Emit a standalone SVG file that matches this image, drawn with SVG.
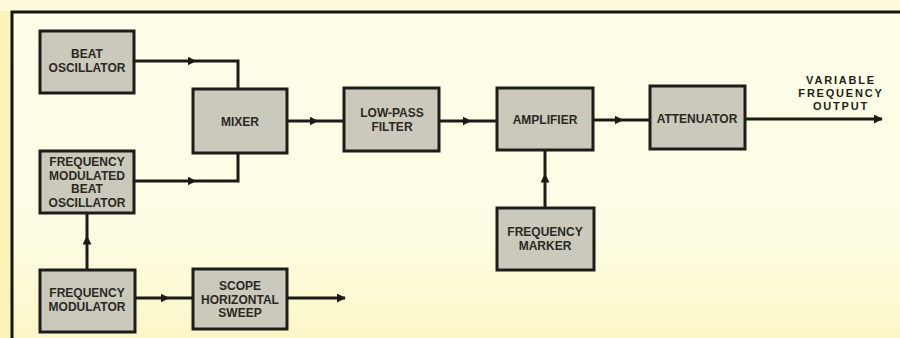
<svg xmlns="http://www.w3.org/2000/svg" width="900" height="338" viewBox="0 0 900 338">
<defs>
<linearGradient id="bg" x1="0" y1="0" x2="0" y2="1">
<stop offset="0" stop-color="#fefee9"/>
<stop offset="0.7" stop-color="#fefde4"/>
<stop offset="1" stop-color="#fcf6c6"/>
</linearGradient>
<marker id="arr" viewBox="0 0 10 10" refX="5" refY="5" markerWidth="9" markerHeight="9" markerUnits="userSpaceOnUse" orient="auto">
<path d="M0,0 L10,5 L0,10 Z" fill="#1a1a16"/>
</marker>
<marker id="end" viewBox="0 0 10 10" refX="9" refY="5" markerWidth="9" markerHeight="9" markerUnits="userSpaceOnUse" orient="auto">
<path d="M0,0 L10,5 L0,10 Z" fill="#1a1a16"/>
</marker>
</defs>
<style>
.box{fill:#cbc8bc;stroke:#1c1c18;stroke-width:3}
.t{font-family:"Liberation Sans",Arial,sans-serif;font-weight:bold;font-size:12px;fill:#2a2a22;text-anchor:middle}
.o{font-family:"Liberation Sans",Arial,sans-serif;font-weight:bold;font-size:11px;fill:#1e1e18;text-anchor:middle;letter-spacing:1.8px}
.w{fill:none;stroke:#1a1a16;stroke-width:3}
</style>
<rect x="0" y="0" width="900" height="338" fill="url(#bg)"/>
<rect x="0" y="0" width="12" height="338" fill="#fbf3b8"/>
<rect x="0" y="0" width="900" height="11" fill="#fdfbdc"/>
<path d="M12,338 V12 H900" fill="none" stroke="#141410" stroke-width="3"/>

<g id="connectors">
<path class="w" d="M134,61 H238 V89"/>
<path class="w" d="M134,181 H238 V153"/>
<path class="w" d="M87,270 V213"/>
<path class="w" d="M135,298 H193"/>
<path class="w" d="M287,298 H345" marker-end="url(#end)"/>
<path class="w" d="M287,121 H344"/>
<path class="w" d="M439,121 H497"/>
<path class="w" d="M593,120 H650"/>
<path class="w" d="M545,208 V150"/>
<path class="w" d="M745,119 H882" marker-end="url(#end)"/>
<path d="M186,61 H192" stroke="none" marker-end="url(#arr)"/>
<path d="M186,181 H192" stroke="none" marker-end="url(#arr)"/>
<path d="M87,245 V240" stroke="none" marker-end="url(#arr)"/>
<path d="M160,298 H165" stroke="none" marker-end="url(#arr)"/>
<path d="M309,121 H314" stroke="none" marker-end="url(#arr)"/>
<path d="M462,121 H467" stroke="none" marker-end="url(#arr)"/>
<path d="M614,120 H619" stroke="none" marker-end="url(#arr)"/>
<path d="M545,183 V178" stroke="none" marker-end="url(#arr)"/>
</g>

<g id="beat-oscillator">
<rect class="box" x="40" y="31" width="94" height="62"/>
<text class="t" x="87" y="58">BEAT</text>
<text class="t" x="87" y="72">OSCILLATOR</text>
</g>
<g id="fm-beat-oscillator">
<rect class="box" x="40" y="151" width="94" height="62"/>
<text class="t" x="87" y="166">FREQUENCY</text>
<text class="t" x="87" y="179.5">MODULATED</text>
<text class="t" x="87" y="193">BEAT</text>
<text class="t" x="87" y="206.5">OSCILLATOR</text>
</g>
<g id="frequency-modulator">
<rect class="box" x="40" y="270" width="95" height="62"/>
<text class="t" x="87" y="297">FREQUENCY</text>
<text class="t" x="87" y="311">MODULATOR</text>
</g>
<g id="mixer">
<rect class="box" x="193" y="89" width="94" height="64"/>
<text class="t" x="240" y="126">MIXER</text>
</g>
<g id="scope-horizontal-sweep">
<rect class="box" x="193" y="269" width="94" height="60"/>
<text class="t" x="240" y="290">SCOPE</text>
<text class="t" x="240" y="303.5">HORIZONTAL</text>
<text class="t" x="240" y="317">SWEEP</text>
</g>
<g id="low-pass-filter">
<rect class="box" x="344" y="88" width="95" height="63"/>
<text class="t" x="392" y="117">LOW-PASS</text>
<text class="t" x="392" y="131">FILTER</text>
</g>
<g id="amplifier">
<rect class="box" x="497" y="88" width="96" height="62"/>
<text class="t" x="545" y="124">AMPLIFIER</text>
</g>
<g id="frequency-marker">
<rect class="box" x="497" y="208" width="97" height="62"/>
<text class="t" x="545" y="236">FREQUENCY</text>
<text class="t" x="545" y="250">MARKER</text>
</g>
<g id="attenuator">
<rect class="box" x="650" y="86" width="95" height="63"/>
<text class="t" x="697" y="123">ATTENUATOR</text>
</g>
<g id="output-label">
<text class="o" x="841" y="84">VARIABLE</text>
<text class="o" x="841" y="97">FREQUENCY</text>
<text class="o" x="841" y="110">OUTPUT</text>
</g>
</svg>
